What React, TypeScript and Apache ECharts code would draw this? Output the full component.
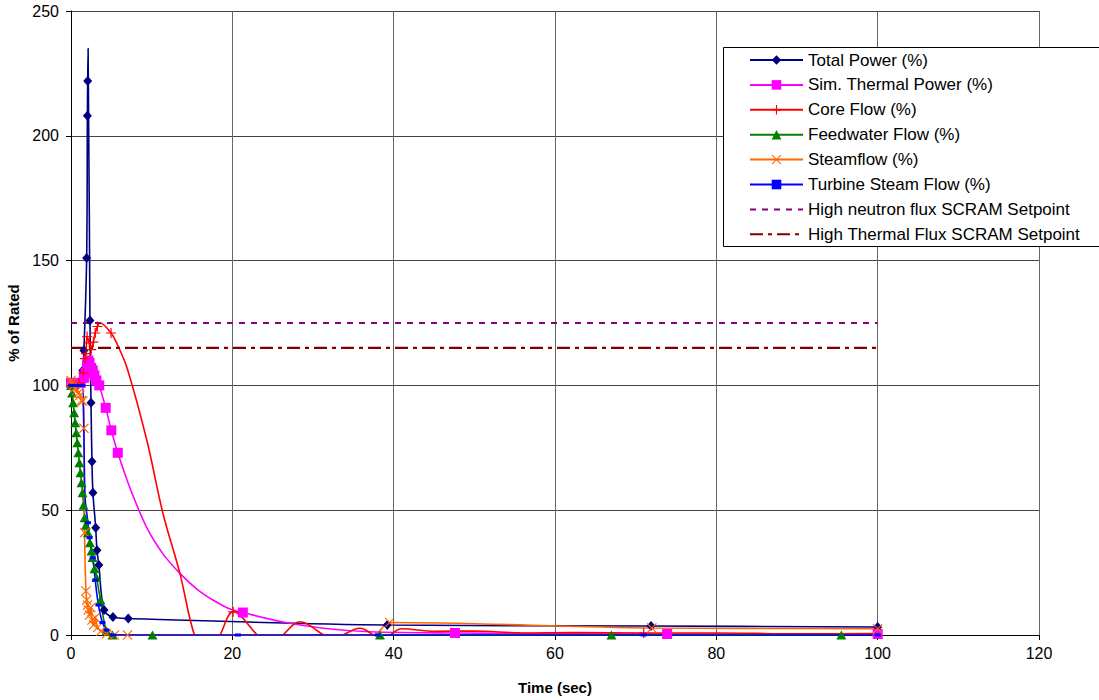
import React, { useEffect, useRef } from "react";
import * as echarts from "echarts";

// [time (sec), % of rated, marker shown (1) or curve-only point (0)]
type P = [number, number, number];

const seriesNames = [
  "Total Power (%)",
  "Sim. Thermal Power (%)",
  "Core Flow (%)",
  "Feedwater Flow (%)",
  "Steamflow (%)",
  "Turbine Steam Flow (%)",
  "High neutron flux SCRAM Setpoint",
  "High Thermal Flux SCRAM Setpoint",
];

const totalPower: P[] = [
  [0, 100, 1], [0.4, 100, 1], [0.8, 100, 1], [1.2, 101, 1], [1.45, 106, 1], [1.6, 114, 1],
  [1.94, 151, 1], [2.03, 208, 1], [2.07, 222, 1], [2.12, 235, 0], [2.35, 126, 1],
  [2.48, 93, 1], [2.6, 69.5, 1], [2.72, 57, 1], [3.06, 43, 1], [3.22, 34, 1], [3.45, 28, 1],
  [4.1, 10, 1], [5.2, 7.2, 1], [7.1, 6.6, 1], [39.2, 4, 1], [71.9, 3.6, 1], [100, 3.2, 1],
];

const simThermalPower: P[] = [
  [0, 101, 1], [0.4, 101, 1], [0.8, 101, 1], [1.2, 101, 1], [1.6, 103, 1], [1.8, 105, 1],
  [2.0, 108, 1], [2.15, 110, 1], [2.3, 109, 1], [2.5, 107, 1], [2.7, 106, 1], [2.9, 104, 1],
  [3.15, 102, 1], [3.5, 100, 1], [4.3, 91, 1], [5.0, 82, 1], [5.8, 73, 1],
  [7.3, 59, 0], [9.4, 43, 0], [11.4, 32.5, 0], [13.5, 24.7, 0], [15.6, 18.4, 0],
  [17.7, 13.8, 0], [19.7, 10.4, 0], [21.3, 9, 1], [26.3, 5.2, 0], [31.3, 2.7, 0],
  [37, 1.3, 0], [47.6, 0.8, 1], [73.9, 0.4, 1], [100, 0.4, 1],
];

const coreFlow: P[] = [
  [0, 100, 1], [0.5, 100, 1], [1.0, 101, 1], [1.53, 105, 1], [1.72, 110.7, 1], [1.85, 112.7, 1],
  [2.0, 119.6, 1], [2.27, 117, 1], [2.5, 114.3, 1], [2.77, 117.3, 1], [3.0, 121, 1],
  [3.27, 123.6, 1], [3.6, 125, 0], [4.96, 121, 1], [5.8, 116, 0], [7.0, 106.5, 0],
  [9.4, 78, 0], [11.4, 48.7, 0], [13.5, 24.7, 0], [15.4, -1, 0], [16.8, -6, 0], [18.3, -1, 0],
  [20.1, 9.3, 1], [23.4, -1, 0], [24.6, -3, 0], [25.9, -1, 0], [28.4, 5.3, 0], [32.5, -1.3, 0],
  [35.8, 2.7, 0], [38.6, -1.5, 0], [41, 2.5, 0], [45, 1.5, 0], [50, 1.6, 0], [56, 0.8, 0],
  [62, 1, 0], [71, 0.8, 1], [80, 0.8, 0], [90, 0.5, 0], [100, 0.6, 0],
];

const feedwaterFlow: P[] = [
  [0, 100, 1], [0.13, 97, 1], [0.26, 93, 1], [0.39, 89, 1], [0.52, 85, 1], [0.65, 81, 1],
  [0.78, 77, 1], [0.91, 73, 1], [1.04, 69, 1], [1.17, 65, 1], [1.3, 61, 1], [1.43, 57, 1],
  [1.56, 52, 1], [1.69, 47, 1], [1.85, 44, 1], [2.1, 41, 1], [2.35, 37, 1], [2.54, 33.7, 1],
  [2.67, 31, 1], [2.91, 26.5, 1], [3.16, 23, 1], [3.66, 14, 1], [4.4, 1.6, 1], [5.15, 0, 1],
  [10.1, 0, 1], [38.3, 0, 1], [67, 0, 1], [95.5, 0, 1],
];

const steamflow: P[] = [
  [0, 102, 1], [0.15, 101, 1], [0.3, 100, 1], [0.5, 99, 1], [0.7, 98, 1], [0.9, 97, 1],
  [1.1, 96, 1], [1.3, 94, 1], [1.46, 93.7, 1], [1.6, 82.8, 1], [1.68, 41, 1], [1.85, 17.6, 1],
  [1.95, 14, 1], [2.05, 12, 1], [2.15, 10, 1], [2.3, 8, 1], [2.45, 11, 1], [2.6, 6, 1],
  [2.8, 4, 1], [3.0, 7, 1], [3.3, 3, 1], [3.7, 1.5, 1], [4.4, 0.5, 1], [5.4, 0, 1],
  [7.0, 0, 1], [37.5, 0, 0], [39.5, 5, 1], [72, 2.8, 1], [100, 2.5, 1],
];

const turbineSteamFlow: P[] = [
  [0, 100, 1], [0.5, 100, 1], [1.0, 100, 1], [1.4, 100, 1], [1.6, 80, 0], [1.75, 55, 0],
  [2.1, 45, 1], [2.3, 39, 1], [2.7, 31, 1], [3.0, 22, 1], [3.4, 12, 1], [3.9, 5, 1],
  [4.4, 2, 1], [5.2, 0, 1], [20.7, 0, 1], [38, 0, 1], [71, 0, 1], [100, 0, 1],
];

const neutronFluxSetpoint: P[] = [[0, 125, 0], [100, 125, 0]];
const thermalFluxSetpoint: P[] = [[0, 115, 0], [100, 115, 0]];

const xMin = 0, xMax = 120, xStep = 20;
const yMin = 0, yMax = 250, yStep = 50;

const FONT = "'Liberation Sans', Arial, sans-serif";
const PLUS = "path://M4.4,0H5.6V4.4H10V5.6H5.6V10H4.4V5.6H0V4.4H4.4Z";
const CROSS = "path://M0.8,0L5,4.2L9.2,0L10,0.8L5.8,5L10,9.2L9.2,10L5,5.8L0.8,10L0,9.2L4.2,5L0,0.8Z";

function mkLine(
  name: string, pts: P[], color: string, symbol: string, symbolSize: any,
  width = 1.6, type: any = "solid", smooth: number | boolean = 0.35
) {
  return {
    type: "line",
    name,
    smooth,
    clip: true,
    symbol,
    symbolSize,
    showSymbol: true,
    lineStyle: { color, width, type },
    itemStyle: { color, borderWidth: 0 },
    emphasis: { disabled: true },
    data: pts.map((p) => ({ value: [p[0], p[1]], symbol: p[2] ? symbol : "none" })),
  };
}

export default function App() {
  const ref = useRef<HTMLDivElement>(null);
  useEffect(() => {
    if (!ref.current) return;
    const chart = echarts.init(ref.current, undefined, { renderer: "svg" });
    chart.setOption({
      animation: false,
      backgroundColor: "#ffffff",
      textStyle: { fontFamily: FONT },
      grid: { left: 71, right: 60, top: 11, bottom: 65, containLabel: false, outerBoundsMode: "none" },
      xAxis: {
        type: "value", min: xMin, max: xMax, interval: xStep,
        name: "Time (sec)", nameLocation: "middle", nameGap: 45,
        nameTextStyle: { fontWeight: "bold", fontSize: 15, color: "#000", fontFamily: FONT },
        axisLine: { show: true, onZero: false, lineStyle: { color: "#000", width: 1 } },
        axisTick: { show: true, length: 5, lineStyle: { color: "#000" } },
        axisLabel: { fontSize: 16, color: "#000", margin: 10, fontFamily: FONT },
        splitLine: { show: true, lineStyle: { color: "#666", width: 1 } },
      },
      yAxis: {
        type: "value", min: yMin, max: yMax, interval: yStep,
        name: "% of Rated", nameLocation: "middle", nameGap: 47, nameRotate: 90,
        nameTextStyle: { fontWeight: "bold", fontSize: 15, color: "#000", fontFamily: FONT },
        axisLine: { show: true, lineStyle: { color: "#000", width: 1 } },
        axisTick: { show: true, length: 5, lineStyle: { color: "#000" } },
        axisLabel: { fontSize: 16, color: "#000", margin: 12, fontFamily: FONT },
        splitLine: { show: true, lineStyle: { color: "#444", width: 1 } },
      },
      graphic: [
        {
          type: "rect", z: 3, silent: true,
          shape: { x: 723.5, y: 47.5, width: 400, height: 199 },
          style: { fill: "#fff", lineWidth: 0 },
        },
        {
          type: "polyline", z: 3, silent: true,
          shape: { points: [[1110, 47.5], [723.5, 47.5], [723.5, 246.5], [1110, 246.5]] },
          style: { fill: null, stroke: "#000", lineWidth: 1 },
        },
      ],
      legend: {
        orient: "vertical",
        left: 723, top: 47, z: 10,
        padding: [4.5, 20, 4.5, 26],
        itemWidth: 53, itemHeight: 12, itemGap: 7.9,
        backgroundColor: "transparent", borderWidth: 0,
        textStyle: { fontSize: 17, color: "#000", fontFamily: FONT },
        data: seriesNames.map((n, i) =>
          i >= 6 ? { name: n, itemStyle: { color: "rgba(0,0,0,0)", borderWidth: 0 } } : { name: n }
        ),
      },
      series: [
        mkLine(seriesNames[0], totalPower, "#000080", "diamond", [9, 10]),
        mkLine(seriesNames[1], simThermalPower, "#FF00FF", "rect", 10),
        mkLine(seriesNames[2], coreFlow, "#FF0000", PLUS, 10),
        mkLine(seriesNames[3], feedwaterFlow, "#008000", "triangle", [10, 9]),
        mkLine(seriesNames[4], steamflow, "#FF6600", CROSS, 10),
        mkLine(seriesNames[5], turbineSteamFlow, "#0000FF", "rect", [6, 3]),
        mkLine(seriesNames[6], neutronFluxSetpoint, "#800080", "none", 0, 2.2, [6, 6], false),
        mkLine(seriesNames[7], thermalFluxSetpoint, "#800000", "none", 0, 2.2, [13, 5, 4, 5], false),
      ],
    });
    return () => chart.dispose();
  }, []);
  return (
    <div
      ref={ref}
      style={{ position: "absolute", left: 0, top: 0, width: 1099, height: 700, background: "#fff" }}
    />
  );
}
